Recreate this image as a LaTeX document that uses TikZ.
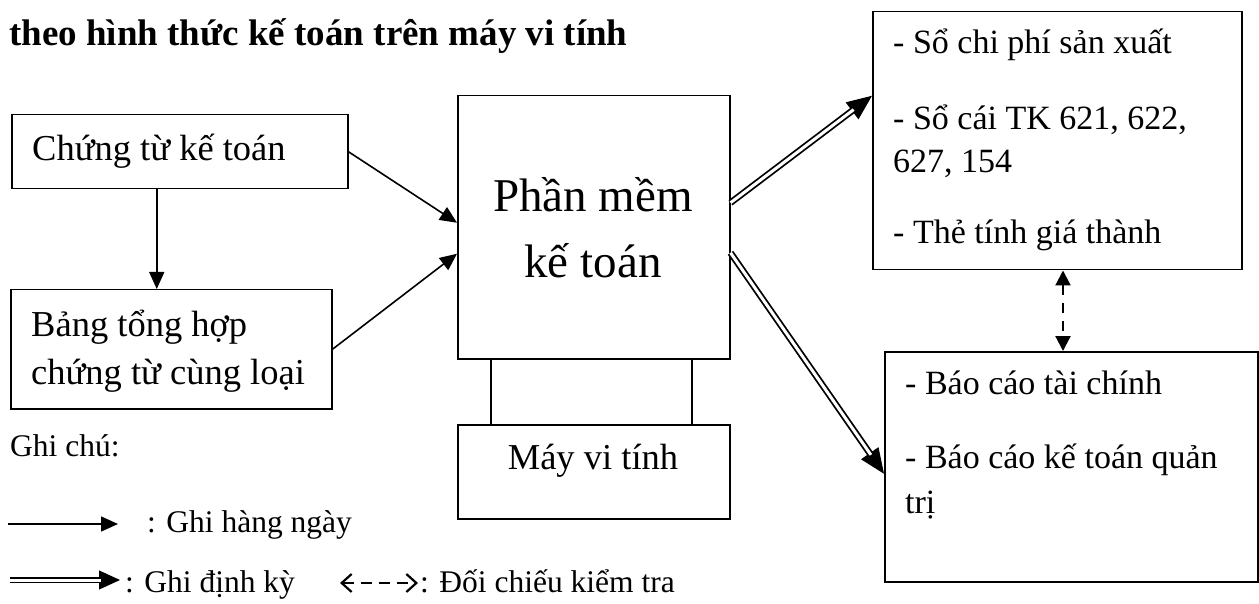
\documentclass[tikz,border=0pt]{standalone}
\usepackage{fontspec}
\setmainfont{Liberation Serif}
\usetikzlibrary{arrows.meta}
\begin{document}
\begin{tikzpicture}[x=1pt,y=-1pt,
  box/.style={draw, line width=1.5pt, inner sep=0pt, anchor=north west},
  txt/.style={inner sep=0pt, anchor=base west, font=\fontsize{36.5}{44}\selectfont},
  rtxt/.style={inner sep=0pt, anchor=base west, font=\fontsize{34}{41}\selectfont},
  ctxt/.style={inner sep=0pt, anchor=base, font=\fontsize{36.5}{44}\selectfont},
  bigtxt/.style={inner sep=0pt, anchor=base, font=\fontsize{47}{56}\selectfont},
  legtxt/.style={inner sep=0pt, anchor=base west, font=\fontsize{31.5}{38}\selectfont},
  solidarrow/.style={line width=1.6pt, -{Triangle[length=17pt,width=15pt]}},
  dbltip/.style={line width=1pt, -{Triangle[length=25pt,width=21pt]}},
  dblshaft/.style={line width=1.8pt, double=white, double distance=3pt},
  checkarrow/.style={line width=2.2pt, dash pattern=on 10pt off 8pt,
    {Triangle[length=15pt,width=15pt]}-{Triangle[length=15pt,width=15pt]}},
  legcheck/.style={line width=2.2pt, dash pattern=on 11pt off 7pt,
    {Straight Barb[length=10pt,width=18pt]}-{Straight Barb[length=10pt,width=18pt]}}]

\useasboundingbox (0,0) rectangle (1259,604);
\fill[white] (0,0) rectangle (1259,604);

% heading
\node[inner sep=0pt, anchor=base west, font=\fontsize{37}{44}\selectfont\bfseries]
  (title) at (9,46) {theo hình thức kế toán trên máy vi tính};

% source documents
\node[box, minimum width=336pt, minimum height=74pt] (ct) at (11,114) {};
\node[txt] (ctt) at (32,161) {Chứng từ kế toán};

\node[box, minimum width=321pt, minimum height=119pt] (bt) at (10,289) {};
\node[txt] (bt1) at (31,336) {Bảng tổng hợp};
\node[txt] (bt2) at (31,384) {chứng từ cùng loại};

% software and computer
\node[box, minimum width=272pt, minimum height=263pt] (pm) at (457,95) {};
\node[bigtxt] (pm1) at (593,212) {Phần mềm};
\node[bigtxt] (pm2) at (593,277) {kế toán};

\node[box, minimum width=272pt, minimum height=94pt] (mvt) at (457,424) {};
\node[ctxt] (mvtt) at (593,469) {Máy vi tính};

\coordinate (legl) at (491,0);
\coordinate (legr) at (692,0);
\draw[line width=1.5pt] (pm.south -| legl) -- (mvt.north -| legl);
\draw[line width=1.5pt] (pm.south -| legr) -- (mvt.north -| legr);

% output books
\node[box, minimum width=369pt, minimum height=258pt] (tr) at (872,11) {};
\node[rtxt] (tr1) at (893,54) {- Sổ chi phí sản xuất};
\node[rtxt] (tr2) at (893,130) {- Sổ cái TK 621, 622,};
\node[rtxt] (tr3) at (893,173) {627, 154};
\node[rtxt] (tr4) at (893,244) {- Thẻ tính giá thành};

\node[box, minimum width=373pt, minimum height=230pt] (br) at (884,351) {};
\node[rtxt] (br1) at (905,394) {- Báo cáo tài chính};
\node[rtxt] (br2) at (905,468) {- Báo cáo kế toán quản};
\node[rtxt] (br3) at (905,513) {trị};

% daily entries
\draw[solidarrow] (ct.east) -- ([yshift=4.5pt]pm.west);
\draw[solidarrow] (bt.east) -- ([yshift=-26.5pt]pm.west);
\draw[solidarrow] ([xshift=-23pt]ct.south) -- ([xshift=-23pt]ct.south |- bt.north);

% periodic entries
\draw[dbltip] ([yshift=24.5pt]pm.east) -- ([yshift=45pt]tr.west);
\draw[dblshaft, shorten >=23pt] ([yshift=24.5pt]pm.east) -- ([yshift=45pt]tr.west);
\draw[dbltip] ([yshift=-25.5pt]pm.east) -- ([yshift=-7pt]br.west);
\draw[dblshaft, shorten >=23pt] ([yshift=-25.5pt]pm.east) -- ([yshift=-7pt]br.west);

% cross check
\coordinate (chk) at (1063,0);
\draw[checkarrow] (tr.south -| chk) -- (br.north -| chk);

% legend
\node[legtxt] (note) at (10,456) {Ghi chú:};
\coordinate (l1a) at (8,524);
\coordinate (l1b) at (118,524);
\draw[solidarrow] (l1a) -- (l1b);
\node[legtxt] (n1) at (147,532) {: Ghi hàng ngày};

\coordinate (l2a) at (10,580);
\coordinate (l2b) at (120,580);
\draw[line width=1pt, -{Triangle[length=21pt,width=19pt]}] (l2a) -- (l2b);
\draw[dblshaft, shorten >=19pt] (l2a) -- (l2b);
\node[legtxt] (n2) at (125,592) {: Ghi định kỳ};

\coordinate (l3a) at (340,583);
\coordinate (l3b) at (418,583);
\draw[legcheck] (l3a) -- (l3b);
\node[legtxt] (n3) at (420,592) {: Đối chiếu kiểm tra};
\end{tikzpicture}
\end{document}
